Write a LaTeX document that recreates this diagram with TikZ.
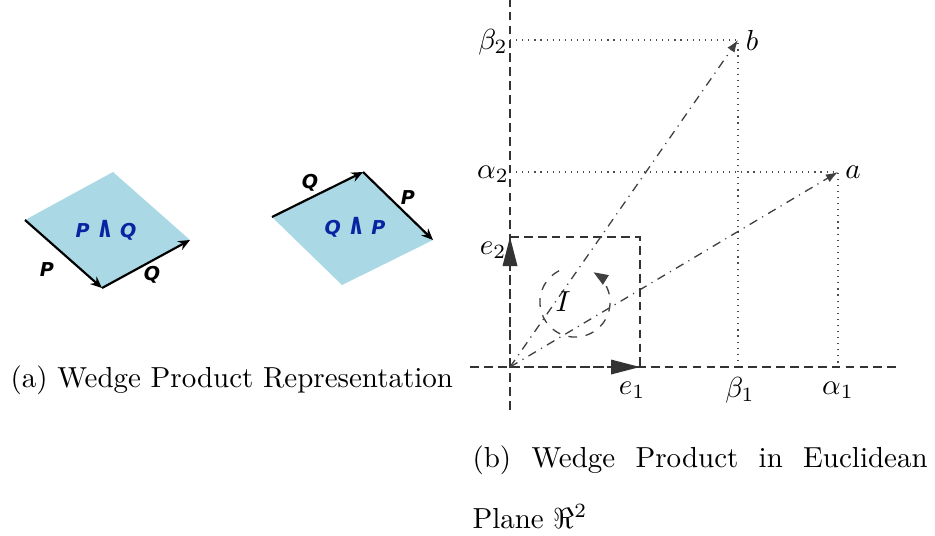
\documentclass[tikz,border=0pt]{standalone}
\usepackage{amsmath}
\usepackage{amssymb}
\usepackage{graphicx}
\usepackage{fontspec}
\usepackage{xcolor}
\usetikzlibrary{arrows.meta,calc}
\newfontfamily\lblfont{DejaVu Sans}
\definecolor{planeblue}{RGB}{170,216,228}
\definecolor{lbldark}{RGB}{10,35,160}
\newcommand{\wdg}{\scalebox{1.1}[1.55]{∧}}
\tikzset{
  >={Latex[length=2mm]},
  plane/.style={fill=planeblue, draw=none},
  vec/.style={black, line width=0.75pt, -{Stealth[length=4pt, width=3.4pt]}},
  veclbl/.style={font=\lblfont\bfseries\itshape\fontsize{6.6}{7}\selectfont, inner sep=0pt},
  wedgelbl/.style={veclbl, text=lbldark},
  axis/.style={black!80, line width=0.6pt, dash pattern=on 3pt off 1.8pt},
  basis/.style={axis, -{Triangle[length=10pt, width=5pt]}},
  guide/.style={black!70, dash pattern=on 0.4pt off 1.7pt, line width=0.4pt},
  ray/.style={black!75, dash dot, line width=0.45pt, -{Latex[length=4.2pt, width=3pt]}},
  coordlbl/.style={inner sep=0pt},
  caption/.style={anchor=base west, inner sep=0pt},
}
\begin{document}
\begin{tikzpicture}[x=0.345pt, y=0.345pt]
  \useasboundingbox (0,0) rectangle (935,-535);

  % (a) two oriented planes
  \coordinate (pa) at (25,-220);
  \coordinate (pb) at (102,-288);
  \coordinate (pc) at (190,-240);
  \coordinate (pd) at (113,-172);
  \fill[plane] (pa) -- (pb) -- (pc) -- (pd) -- cycle;
  \draw[vec] (pa) -- (pb);
  \draw[vec] (pb) -- (pc);
  \node[veclbl] (lp) at (47,-270) {P};
  \node[veclbl] (lq) at (152,-275) {Q};
  \node[wedgelbl] (pq) at (106,-230) {P \wdg{} Q};

  \coordinate (qa) at (272,-217);
  \coordinate (qb) at (363,-172);
  \coordinate (qc) at (433,-240);
  \coordinate (qd) at (342,-285);
  \fill[plane] (qa) -- (qb) -- (qc) -- (qd) -- cycle;
  \draw[vec] (qa) -- (qb);
  \draw[vec] (qb) -- (qc);
  \node[veclbl] (lq2) at (310,-183) {Q};
  \node[veclbl] (lp2) at (408,-198) {P};
  \node[wedgelbl] (qp) at (355,-227) {Q \wdg{} P};

  \node[caption] (capa) at (10,-387) {(a) Wedge Product Representation};

  % (b) euclidean plane
  \coordinate (o) at (510,-367);
  \coordinate (ytop) at (510,0);
  \coordinate (ybot) at (510,-410);
  \coordinate (xleft) at (470,-367);
  \coordinate (xright) at (900,-367);
  \coordinate (e1) at (640,-367);
  \coordinate (e2) at (510,-237);
  \coordinate (sq) at (640,-237);
  \coordinate (a) at (838,-172);
  \coordinate (b) at (738,-40);
  \coordinate (a2) at (510,-172);
  \coordinate (b2) at (510,-40);
  \coordinate (a1) at (838,-367);
  \coordinate (b1) at (738,-367);

  \draw[guide] (b2) -- (b) -- (b1);
  \draw[guide] (a2) -- (a) -- (a1);

  \draw[axis] (ybot) -- (ytop);
  \draw[axis] (xleft) -- (xright);
  \draw[axis] (e2) -- (sq) -- (e1);
  \draw[basis] (o) -- (e2);
  \draw[basis] (o) -- (e1);

  \draw[ray] (o) -- (a);
  \draw[ray] (o) -- (b);

  \coordinate (rot) at (575,-302);
  \draw[black!75, dashed, line width=0.45pt, -{Triangle[length=5pt, width=3.8pt]}]
    ($(rot)+(117:12.1pt)$) arc[start angle=117, end angle=418, radius=12.1pt];
  \node[coordlbl] (li) at (563,-302) {$I$};

  \node[coordlbl] (lb2) at (493,-42) {$\beta_2$};
  \node[coordlbl] (la2) at (493,-174) {$\alpha_2$};
  \node[coordlbl] (le2) at (493,-250) {$e_2$};
  \node[coordlbl] (le1) at (632,-390) {$e_1$};
  \node[coordlbl] (lb1) at (740,-390) {$\beta_1$};
  \node[coordlbl] (la1) at (838,-390) {$\alpha_1$};
  \node[coordlbl] (lb) at (752,-40) {$b$};
  \node[coordlbl] (la) at (853,-172) {$a$};

  \node[caption] (capb) at (472,-467) {\makebox[157pt][s]{(b) Wedge Product in Euclidean}};
  \node[caption] (capb2) at (472,-528) {Plane $\Re^2$};
\end{tikzpicture}
\end{document}
